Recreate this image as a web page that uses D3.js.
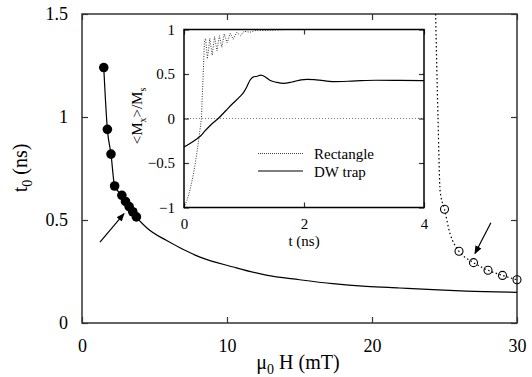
<!DOCTYPE html>
<html>
<head>
<meta charset="utf-8">
<script src="https://cdn.jsdelivr.net/npm/d3@7"></script>
<style>
  body { margin: 0; background: #fff; }
  svg, svg text { font-family: "Liberation Serif", "Liberation Sans", Arial, sans-serif; }
</style>
</head>
<body>
<svg class="chart" width="532" height="377"></svg>
<script>
// main panel: switching time t0 vs field
const dwPoints = [[1.5, 1.24], [1.75, 0.94], [2.0, 0.82], [2.25, 0.665], [2.75, 0.62],
                  [3.0, 0.59], [3.25, 0.565], [3.5, 0.54], [3.75, 0.515]];
const dwFit = [[1.5, 1.24], [1.75, 0.94], [2.0, 0.82], [2.25, 0.665], [2.75, 0.62],
               [3.0, 0.59], [3.25, 0.565], [3.5, 0.54], [3.75, 0.515], [4.5, 0.46],
               [5.84, 0.40], [8.14, 0.32], [10.43, 0.272], [12.7, 0.232], [15, 0.21],
               [17.3, 0.191], [19.6, 0.178], [21.9, 0.17], [24.2, 0.162], [26.5, 0.155],
               [30, 0.149]];
const rectPoints = [[25, 0.552], [26, 0.348], [27, 0.293], [28, 0.256], [29, 0.231], [30, 0.21]];
const rectLine = [[24.38, 1.52], [24.55, 1.0], [24.7, 0.64], [25, 0.552], [25.38, 0.434],
                  [25.72, 0.377], [26, 0.348], [27, 0.293], [28, 0.256], [29, 0.231], [30, 0.21]];
const arrows = [[[1.24, 0.393], [2.9, 0.531]], [[28.2, 0.487], [27.1, 0.337]]];
const xTicks = [0, 10, 20, 30];
const yTicks = [0, 0.5, 1, 1.5];

// inset: <Mx>/Ms vs time
const insetRect = [[0, -1], [0.05, -0.92], [0.1, -0.8], [0.15, -0.65], [0.2, -0.45], [0.25, -0.22],
                   [0.29, 0], [0.32, 0.5], [0.34, 0.86], [0.36, 0.9], [0.39, 0.67], [0.43, 0.9],
                   [0.47, 0.71], [0.51, 0.92], [0.55, 0.76], [0.59, 0.93], [0.63, 0.8], [0.67, 0.95],
                   [0.72, 0.85], [0.77, 0.96], [0.82, 0.89], [0.88, 0.97], [0.94, 0.93], [1.0, 0.98],
                   [1.1, 0.97], [1.2, 0.99], [1.4, 0.99], [1.7, 1.0], [4, 1.0]];
const insetDW = [[0, -0.32], [0.1, -0.28], [0.2, -0.235], [0.27, -0.2], [0.35, -0.14], [0.45, -0.07],
                 [0.57, 0], [0.7, 0.09], [0.8, 0.16], [0.93, 0.245], [1.0, 0.3], [1.05, 0.36],
                 [1.1, 0.43], [1.15, 0.465], [1.22, 0.475], [1.28, 0.487], [1.35, 0.47], [1.43, 0.43],
                 [1.55, 0.405], [1.66, 0.395], [1.8, 0.41], [1.95, 0.435], [2.05, 0.44], [2.2, 0.435],
                 [2.5, 0.415], [2.8, 0.42], [3.2, 0.43], [3.6, 0.428], [4, 0.425]];
const insetXTicks = [0, 2, 4];
const insetYTicks = [-1, -0.5, 0, 0.5, 1];
const legendNames = ["Rectangle", "DW trap"];

const svg = d3.select(".chart");

const x = d3.scaleLinear().domain([0, 30]).range([82, 517]);
const y = d3.scaleLinear().domain([0, 1.5]).range([323, 14]);

const fmt = d => d3.format("")(d);

// ticks go inward, labels outside
const styleAxis = (g, size) => {
  g.select(".domain").remove();
  g.attr("font-family", null).attr("font-size", null);
  g.selectAll(".tick line").attr("stroke", "#333").attr("stroke-width", 1.2);
  g.selectAll(".tick text")
      .attr("fill", "#000")
      .style("font-size", size + "px");
};

svg.append("g")
    .attr("transform", "translate(0,323)")
    .call(d3.axisBottom(x).tickValues(xTicks).tickFormat(fmt).tickSizeInner(-6).tickSizeOuter(0).tickPadding(16))
    .call(g => styleAxis(g, 18));
svg.append("g")
    .attr("transform", "translate(82,0)")
    .call(d3.axisLeft(y).tickValues(yTicks).tickFormat(fmt).tickSizeInner(-6).tickSizeOuter(0).tickPadding(14))
    .call(g => styleAxis(g, 18));
svg.append("g")
    .attr("transform", "translate(0,14)")
    .call(d3.axisTop(x).tickValues(xTicks).tickFormat("").tickSizeInner(-6).tickSizeOuter(0))
    .call(g => styleAxis(g, 18));
svg.append("g")
    .attr("transform", "translate(517,0)")
    .call(d3.axisRight(y).tickValues(yTicks).tickFormat("").tickSizeInner(-6).tickSizeOuter(0))
    .call(g => styleAxis(g, 18));

svg.append("rect")
    .attr("x", 82).attr("y", 14)
    .attr("width", 517 - 82).attr("height", 323 - 14)
    .attr("fill", "none").attr("stroke", "#333").attr("stroke-width", 1.5);

svg.append("clipPath").attr("id", "mainClip")
  .append("rect").attr("x", 82).attr("y", 14).attr("width", 435).attr("height", 309);

const line = d3.line().x(d => x(d[0])).y(d => y(d[1])).curve(d3.curveMonotoneX);

svg.append("path")
    .datum(dwFit)
    .attr("clip-path", "url(#mainClip)")
    .attr("d", line)
    .attr("fill", "none").attr("stroke", "#000").attr("stroke-width", 1.2);

svg.append("path")
    .datum(rectLine)
    .attr("clip-path", "url(#mainClip)")
    .attr("d", line)
    .attr("fill", "none").attr("stroke", "#000").attr("stroke-width", 1.2)
    .attr("stroke-dasharray", "1.5,2.5");

svg.selectAll(".dw-dot")
    .data(dwPoints)
  .enter().append("circle")
    .attr("class", "dw-dot")
    .attr("cx", d => x(d[0])).attr("cy", d => y(d[1]))
    .attr("r", 4.8).attr("fill", "#000");

svg.selectAll(".rect-dot")
    .data(rectPoints)
  .enter().append("circle")
    .attr("class", "rect-dot")
    .attr("cx", d => x(d[0])).attr("cy", d => y(d[1]))
    .attr("r", 4).attr("fill", "none").attr("stroke", "#000").attr("stroke-width", 1.1);

// arrows
svg.append("defs").append("marker")
    .attr("id", "head")
    .attr("viewBox", "0 0 10 10")
    .attr("refX", 9).attr("refY", 5)
    .attr("markerWidth", 7).attr("markerHeight", 7)
    .attr("orient", "auto")
  .append("path")
    .attr("d", "M0,1L10,5L0,9z")
    .attr("fill", "#000");

svg.selectAll(".arrow")
    .data(arrows)
  .enter().append("line")
    .attr("class", "arrow")
    .attr("x1", d => x(d[0][0])).attr("y1", d => y(d[0][1]))
    .attr("x2", d => x(d[1][0])).attr("y2", d => y(d[1][1]))
    .attr("stroke", "#000").attr("stroke-width", 1.2)
    .attr("marker-end", "url(#head)");

// main axis titles
const xTitle = svg.append("text")
    .attr("x", 298).attr("y", 369)
    .style("text-anchor", "middle")
    .style("font-size", "20px");
xTitle.append("tspan").text("μ");
xTitle.append("tspan").attr("dy", 5).style("font-size", "14px").text("0");
xTitle.append("tspan").attr("dy", -5).text(" H (mT)");

const yTitle = svg.append("text")
    .attr("transform", "translate(27,168) rotate(-90)")
    .style("text-anchor", "middle")
    .style("font-size", "20px");
yTitle.append("tspan").text("t");
yTitle.append("tspan").attr("dy", 5).style("font-size", "14px").text("0");
yTitle.append("tspan").attr("dy", -5).text(" (ns)");

// ---- inset ----
const ix = d3.scaleLinear().domain([0, 4]).range([184, 424]);
const iy = d3.scaleLinear().domain([-1, 1]).range([207.5, 29.5]);

svg.append("rect")
    .attr("x", 184).attr("y", 29.5)
    .attr("width", 240).attr("height", 178)
    .attr("fill", "#fff");

svg.append("line")
    .attr("x1", ix(0)).attr("x2", ix(4))
    .attr("y1", iy(0)).attr("y2", iy(0))
    .attr("stroke", "#777").attr("stroke-width", 1).attr("stroke-dasharray", "1,2");

svg.append("g")
    .attr("transform", "translate(0,207.5)")
    .call(d3.axisBottom(ix).tickValues(insetXTicks).tickFormat(fmt).tickSizeInner(-5).tickSizeOuter(0).tickPadding(11))
    .call(g => styleAxis(g, 15));
svg.append("g")
    .attr("transform", "translate(184,0)")
    .call(d3.axisLeft(iy).tickValues(insetYTicks).tickFormat(fmt).tickSizeInner(-5).tickSizeOuter(0).tickPadding(9))
    .call(g => styleAxis(g, 15));
svg.append("g")
    .attr("transform", "translate(0,29.5)")
    .call(d3.axisTop(ix).tickValues(insetXTicks).tickFormat("").tickSizeInner(-5).tickSizeOuter(0))
    .call(g => styleAxis(g, 15));
svg.append("g")
    .attr("transform", "translate(424,0)")
    .call(d3.axisRight(iy).tickValues(insetYTicks).tickFormat("").tickSizeInner(-5).tickSizeOuter(0))
    .call(g => styleAxis(g, 15));

const iline = d3.line().x(d => ix(d[0])).y(d => iy(d[1]));

svg.append("path")
    .datum(insetRect)
    .attr("d", iline)
    .attr("fill", "none").attr("stroke", "#333").attr("stroke-width", 1)
    .attr("stroke-dasharray", "1,1.5");

svg.append("path")
    .datum(insetDW)
    .attr("d", iline.curve(d3.curveMonotoneX))
    .attr("fill", "none").attr("stroke", "#000").attr("stroke-width", 1.2);

svg.append("rect")
    .attr("x", 184).attr("y", 29.5)
    .attr("width", 240).attr("height", 178)
    .attr("fill", "none").attr("stroke", "#000").attr("stroke-width", 1.5);

// inset legend
const legend = svg.selectAll(".legend")
    .data(legendNames)
  .enter().append("g")
    .attr("class", "legend")
    .attr("transform", (d, i) => "translate(0," + (153.5 + i * 17.5) + ")");

legend.append("line")
    .attr("x1", 258).attr("x2", 303)
    .attr("stroke", (d, i) => i === 0 ? "#444" : "#000")
    .attr("stroke-width", (d, i) => i === 0 ? 1 : 1.2)
    .attr("stroke-dasharray", (d, i) => i === 0 ? "1,1" : null);

legend.append("text")
    .attr("x", 314).attr("y", 5.5)
    .style("font-size", "15px")
    .text(d => d);

svg.append("text")
    .attr("x", 304).attr("y", 246)
    .style("text-anchor", "middle")
    .style("font-size", "15px")
    .text("t (ns)");

const iyTitle = svg.append("text")
    .attr("transform", "translate(142,116) rotate(-90)")
    .style("text-anchor", "middle")
    .style("font-size", "15px");
iyTitle.append("tspan").text("<M");
iyTitle.append("tspan").attr("dy", 4).style("font-size", "10px").text("x");
iyTitle.append("tspan").attr("dy", -4).text(">/M");
iyTitle.append("tspan").attr("dy", 4).style("font-size", "10px").text("s");
</script>
</body>
</html>
